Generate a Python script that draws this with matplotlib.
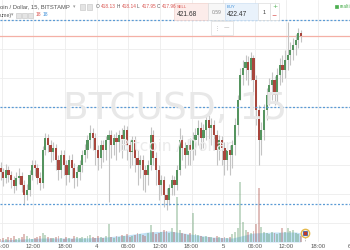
import matplotlib
matplotlib.use("Agg")
import matplotlib.pyplot as plt
from matplotlib.patches import Rectangle

# ---------------- data (BTC/USD, 15 min, Bitstamp) ----------------
first_open = 408.8
closes = [408.4, 407.8, 408.6, 408.1, 407.6, 407.0, 407.8, 408.0, 407.1, 406.1,
          406.6, 408.1, 409.1, 408.8, 407.8, 407.3, 410.6, 411.8, 411.1, 410.4,
          410.8, 409.6, 408.6, 410.1, 409.1, 408.1, 409.6, 408.8, 407.8, 408.4,
          409.1, 410.1, 410.6, 411.6, 412.3, 411.8, 410.6, 409.8, 411.1, 410.6,
          411.6, 412.1, 411.1, 411.8, 411.4, 412.1, 411.6, 412.6, 411.1, 410.4,
          411.6, 409.8, 409.1, 409.6, 408.6, 408.1, 409.1, 412.1, 409.8, 408.6,
          407.1, 407.6, 406.1, 405.6, 406.8, 407.6, 407.1, 408.6, 411.6, 410.8,
          410.1, 411.1, 410.6, 411.6, 412.1, 412.8, 411.8, 412.6, 413.6, 412.8,
          413.1, 412.1, 410.6, 411.6, 410.8, 409.6, 410.6, 410.1, 411.1, 413.1,
          415.6, 418.1, 418.8, 419.4, 418.6, 419.8, 417.6, 414.6, 411.6, 412.6,
          414.6, 416.1, 417.1, 417.6, 416.1, 418.1, 419.1, 418.6, 419.6, 420.1,
          420.6, 421.1, 421.6, 422.3, 422.0]
highs = [409.4, 408.8, 409.2, 409.0, 408.5, 408.0, 408.4, 408.8, 408.4, 407.6,
         407.2, 408.6, 409.6, 409.6, 409.2, 408.4, 411.0, 412.3, 412.2, 411.6,
         411.4, 411.2, 410.1, 410.6, 410.6, 409.6, 410.1, 410.2, 409.3, 409.0,
         409.6, 410.6, 411.2, 412.1, 413.1, 412.8, 412.3, 411.1, 411.6, 411.6,
         412.0, 412.6, 412.6, 412.2, 412.4, 412.6, 412.8, 413.1, 413.0, 411.6,
         412.0, 412.0, 410.6, 410.1, 410.1, 409.1, 409.6, 412.9, 412.6, 410.4,
         409.1, 408.1, 408.0, 406.8, 407.2, 408.1, 408.0, 409.1, 412.8, 412.1,
         411.4, 411.6, 411.8, 412.4, 412.8, 413.6, 413.4, 413.2, 414.2, 414.1,
         413.8, 413.6, 412.6, 412.1, 412.0, 411.4, 411.1, 411.1, 411.6, 413.8,
         416.1, 418.8, 419.6, 420.1, 420.0, 420.4, 420.1, 418.1, 415.1, 413.4,
         415.2, 416.8, 417.8, 418.4, 418.0, 418.8, 419.8, 420.1, 420.6, 423.4,
         421.4, 421.8, 422.2, 422.8, 422.6]
lows = [407.6, 407.0, 407.3, 407.4, 406.8, 406.3, 406.6, 407.2, 406.4, 405.1,
        405.6, 406.0, 407.6, 408.0, 407.2, 406.6, 406.8, 410.1, 410.4, 409.4,
        409.6, 408.6, 407.6, 407.8, 408.1, 407.1, 407.4, 407.8, 406.8, 407.0,
        407.6, 408.4, 409.4, 409.8, 410.8, 410.6, 409.1, 408.6, 408.8, 409.4,
        409.6, 405.4, 409.8, 410.1, 409.6, 410.4, 409.8, 410.6, 409.6, 408.8,
        409.1, 408.4, 407.1, 407.8, 406.6, 406.4, 407.1, 408.6, 409.1, 407.1,
        405.6, 406.1, 404.9, 404.6, 405.1, 406.1, 406.1, 406.6, 408.1, 409.6,
        408.8, 409.1, 409.1, 409.6, 410.1, 411.1, 410.6, 410.8, 411.6, 411.4,
        411.1, 410.6, 409.1, 409.6, 409.1, 408.1, 408.6, 408.1, 408.8, 410.1,
        412.1, 415.6, 417.1, 417.6, 417.1, 417.6, 416.1, 413.1, 409.1, 410.1,
        411.6, 413.6, 415.1, 415.6, 415.1, 415.4, 417.1, 417.4, 417.8, 418.6,
        419.1, 419.6, 420.1, 420.8, 421.4]
volumes = [30, 40, 30, 50, 40, 60, 30, 40, 50, 80,
           60, 40, 30, 40, 50, 60, 90, 70, 50, 40,
           40, 50, 60, 40, 30, 50, 40, 30, 60, 50,
           40, 50, 40, 60, 70, 50, 40, 60, 50, 40,
           60, 180, 50, 40, 60, 50, 70, 60, 80, 50,
           60, 70, 90, 80, 70, 60, 90, 170, 100, 80,
           90, 100, 120, 110, 90, 140, 100, 450, 120, 90,
           80, 70, 90, 290, 80, 70, 60, 50, 60, 50,
           50, 40, 60, 50, 40, 50, 40, 50, 80, 100,
           140, 600, 200, 120, 100, 90, 110, 180, 540, 150,
           100, 90, 80, 100, 90, 80, 90, 140, 100, 140,
           110, 120, 90, 80, 60]
vol_ma_times = [-18.25, -14.25, -10.25, -6.25, -2.25, 1.75, 5.75, 9.75, 13.75,
                17.75, 21.75, 25.75, 29.75, 33.75, 37.75, 38.75]
vol_ma = [20, 30, 40, 40, 40, 50, 70, 100, 110, 80, 50, 40, 90, 100, 100, 90]

tick_times = [-18, -12, -6, 0, 6, 12, 18, 24, 30, 36, 42, 48]
tick_labels = ["06:00", "12:00", "18:00", "4", "06:00", "12:00", "18:00",
               "5", "06:00", "12:00", "18:00", "6"]
grid_prices = [423.6, 420.7, 417.8, 414.9, 412.0, 409.1, 406.2, 403.3]
level_lines = [423.6, 414.9, 405.2]
last_price = 422.0
event_time = 39.5

# ---------------- figure ----------------
W, H = 350, 250
fig = plt.figure(figsize=(3.5, 2.5), dpi=100)
fig.patch.set_facecolor("white")
ax = fig.add_axes([0, 8 / H, 1, 242 / H])
ax.set_xlim(-18.35, 48.07)
ax.set_ylim(401.4, 425.6)
for s in ax.spines.values():
    s.set_visible(False)

ax.set_xticks(tick_times)
ax.set_xticklabels(tick_labels, fontsize=4.3, color="#555555",
                   family="Liberation Sans")
ax.set_yticks(grid_prices)
ax.tick_params(axis="x", length=0, pad=1.2)
ax.tick_params(axis="y", left=False, labelleft=False, length=0)
ax.grid(True, color="#ededed", lw=0.6, zorder=0)
ax.set_axisbelow(True)

# watermark
fig.text(175 / W, 1 - 109 / H, "BTCUSD, 15", ha="center", va="center",
         fontsize=27, color="#e8e8e8", zorder=0.5)
fig.text(175 / W, 1 - 147 / H, "Bitcoin / Dollar", ha="center", va="center",
         fontsize=11, color="#ebebeb", zorder=0.5)

times = [-18.25 + 0.5 * i for i in range(len(closes))]
opens = [first_open] + closes[:-1]
up_col, dn_col = "#55945f", "#a8463d"
cols = [up_col if c >= o else dn_col for o, c in zip(opens, closes)]

ax.vlines(times, lows, highs, color="#c4c4c4", lw=0.8, zorder=2)
ax.bar(times, [c - o for o, c in zip(opens, closes)], bottom=opens,
       width=0.42, color=cols, zorder=3, linewidth=0)

for lv in level_lines:
    ax.axhline(lv, color="#5b9bd5", lw=0.9, ls=(0, (1.6, 1.4)), zorder=4)
ax.axhline(last_price, color="#f4b0a6", lw=0.9, zorder=1.5)

# volume
ax2 = ax.twinx()
ax2.set_ylim(0, 2420)
ax2.set_xlim(-18.35, 48.07)
ax2.axis("off")
ax2.fill_between(vol_ma_times, vol_ma, color="#8fc7ee", alpha=0.55, lw=0)
ax2.bar(times, volumes, width=0.36, color=cols, alpha=0.35, linewidth=0)
ax2.plot([event_time], [95], "o", ms=6, mfc="#f2f2f2", mec="#e6b94a", mew=1)
ax2.plot([event_time], [95], "s", ms=2.5, mfc="#c0392b", mec="#2c5aa0", mew=0.5)
ax2.vlines([event_time], 0, 55, color="#aaaaaa", lw=0.6, ls=(0, (1, 1)))


# ---------------- header overlays ----------------
def ftxt(x, y, s, **kw):
    kw.setdefault("family", "Liberation Sans")
    kw.setdefault("zorder", 7)
    fig.text(x / W, 1 - y / H, s, va="center", **kw)


def fbox(x0, y0, x1, y1, fc, ec):
    fig.add_artist(Rectangle((x0 / W, 1 - y1 / H), (x1 - x0) / W,
                             (y1 - y0) / H, transform=fig.transFigure,
                             facecolor=fc, edgecolor=ec, lw=0.5, zorder=5))


red_txt = "#d9534f"
ftxt(0, 7, "oin / Dollar, 15, BITSTAMP", fontsize=4.2, color="#555555")
ftxt(73, 7, "\u25be", fontsize=3.5, color="#999999", family="DejaVu Sans")
fbox(80, 4.5, 85, 9.5, "#e4e4e4", "#cccccc")
fbox(87, 4.5, 92, 9.5, "#e4e4e4", "#cccccc")
for x, lab, val in [(96, "O", "418.13"), (117, "H", "418.14"),
                    (137, "L", "417.95"), (157, "C", "417.96")]:
    ftxt(x, 7, lab, fontsize=3.4, color="#555555")
    ftxt(x + 4.5, 7, val, fontsize=3.4, color=red_txt)
ftxt(0, 15, "ume)", fontsize=3.8, color="#555555")
ftxt(11, 15, "\u25be", fontsize=3.5, color="#999999", family="DejaVu Sans")
fbox(16, 12.5, 21, 17.5, "#e4e4e4", "#cccccc")
fbox(22, 12.5, 27, 17.5, "#e4e4e4", "#cccccc")
fbox(28, 12.5, 33, 17.5, "#e4e4e4", "#cccccc")
ftxt(36, 15, "18", fontsize=3.6, color=red_txt)
ftxt(43, 15, "18", fontsize=3.6, color="#3d8fd9")

fbox(174, 3, 208, 20, "#fcecea", "#f1d2cd")
ftxt(177, 7, "SELL", fontsize=3, color=red_txt)
ftxt(177, 14, "421.68", fontsize=4.8, color="#333333")
fbox(208, 3, 225, 20, "#f7f7f7", "#dddddd")
ftxt(216.5, 12, "0.59", fontsize=3.6, color="#888888", ha="center")
fbox(225, 3, 258, 20, "#e9f2fb", "#cfe0f2")
ftxt(227, 7, "BUY", fontsize=3, color="#3d8fd9")
ftxt(227, 14, "422.47", fontsize=4.8, color="#333333")
fbox(258, 3, 270, 20, "#ffffff", "#dddddd")
ftxt(264, 12, "1", fontsize=3.8, color="#333333", ha="center")
fbox(270, 3, 279, 20, "#ffffff", "#dddddd")
ftxt(274.5, 7, "+", fontsize=4.5, color="#4caf50", ha="center",
     family="DejaVu Sans")
ftxt(274.5, 15, "\u2212", fontsize=4.5, color=red_txt, ha="center",
     family="DejaVu Sans")
fbox(211, 21, 233, 35, "#ffffff", "#dddddd")
ftxt(215, 28, "\u22ee", fontsize=4, color="#aaaaaa", family="DejaVu Sans")
ftxt(224, 28, "\u2014", fontsize=4, color="#999999", family="DejaVu Sans")

fbox(335, 5, 338, 8, "#4caf50", "#4caf50")
ftxt(340, 6.5, "realtime", fontsize=3.4, color="#4caf50")

fig.savefig("out.png", dpi=100, facecolor="white")
